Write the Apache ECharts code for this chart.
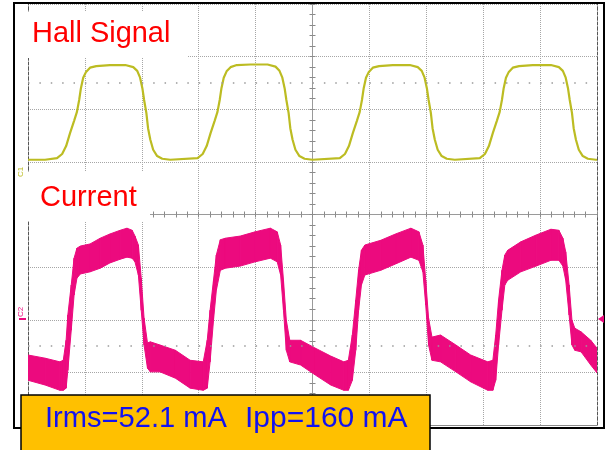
<!DOCTYPE html>
<html><head><meta charset="utf-8">
<script src="https://cdn.jsdelivr.net/npm/echarts@6/dist/echarts.min.js"></script>
<style>html,body{margin:0;padding:0;background:#fff;}#c{width:605px;height:450px;}</style>
</head><body><div id="c"></div>
<script>
// Time in screen divisions (0..10), level in vertical divisions (-4..4)
const hallT = [0,0.30,
  0.51,0.60,0.67,0.74,0.81,0.86,0.90,0.93,0.97,1.02,1.09,1.20,1.44,
  1.71,1.85,1.92,1.97,2.01,2.04,2.08,2.11,2.15,2.20,2.27,2.36,2.50,
  2.98,3.07,3.14,3.21,3.28,3.33,3.37,3.40,3.44,3.49,3.56,3.67,3.91,
  4.21,4.35,4.42,4.47,4.51,4.54,4.58,4.61,4.65,4.70,4.77,4.86,5.00,
  5.48,5.57,5.64,5.71,5.78,5.83,5.87,5.90,5.94,5.99,6.06,6.17,6.41,
  6.71,6.85,6.92,6.97,7.01,7.04,7.08,7.11,7.15,7.20,7.27,7.36,7.50,
  7.94,8.03,8.10,8.17,8.24,8.29,8.33,8.36,8.40,8.45,8.52,8.63,8.87,
  9.19,9.33,9.40,9.45,9.49,9.52,9.56,9.59,9.63,9.68,9.75,9.84,9.98,10.0];
const hallV = [1.04,1.04,
  1.07,1.15,1.30,1.55,1.78,1.95,2.18,2.40,2.60,2.71,2.79,2.82,2.84,
  2.84,2.80,2.73,2.60,2.40,2.18,1.93,1.64,1.42,1.23,1.11,1.06,1.04,
  1.07,1.15,1.30,1.55,1.78,1.95,2.18,2.40,2.60,2.72,2.80,2.84,2.85,
  2.85,2.81,2.73,2.60,2.40,2.18,1.93,1.64,1.42,1.23,1.11,1.06,1.04,
  1.07,1.15,1.30,1.55,1.78,1.95,2.18,2.40,2.60,2.71,2.79,2.82,2.84,
  2.84,2.80,2.73,2.60,2.40,2.18,1.93,1.64,1.42,1.23,1.11,1.06,1.04,
  1.07,1.15,1.30,1.55,1.78,1.95,2.18,2.40,2.60,2.71,2.79,2.82,2.84,
  2.84,2.80,2.73,2.60,2.40,2.18,1.93,1.64,1.42,1.23,1.11,1.06,1.04,1.04];

const curT = [0,0.30,0.56,0.62,0.67,0.70,0.76,0.81,0.86,0.92,
  1.09,1.27,1.44,1.62,1.74,1.83,1.88,1.94,1.99,2.04,
  2.10,2.15,2.32,2.59,2.85,3.08,3.15,3.20,3.26,3.31,
  3.38,3.47,3.73,3.99,4.26,4.38,4.44,4.49,4.54,4.60,
  4.79,5.05,5.32,5.55,5.63,5.70,5.76,5.81,5.86,5.92,
  6.20,6.46,6.73,6.87,6.94,6.99,7.04,7.10,7.25,7.52,
  7.78,8.08,8.17,8.22,8.27,8.33,8.38,8.43,8.66,8.93,
  9.19,9.33,9.40,9.45,9.51,9.56,9.61,9.72,9.89,10.0];
const curUpper = [-2.67,-2.73,-2.80,-2.77,-2.39,-1.91,-1.34,-0.83,-0.64,-0.60,
  -0.56,-0.45,-0.37,-0.30,-0.26,-0.30,-0.41,-0.58,-1.21,-1.97,
  -2.44,-2.42,-2.48,-2.58,-2.77,-2.80,-2.39,-1.82,-1.25,-0.77,
  -0.48,-0.45,-0.41,-0.33,-0.26,-0.33,-0.58,-1.25,-2.01,-2.39,
  -2.39,-2.54,-2.69,-2.80,-2.77,-2.29,-1.63,-1.06,-0.68,-0.58,
  -0.49,-0.37,-0.26,-0.33,-0.58,-1.25,-1.97,-2.33,-2.29,-2.48,
  -2.67,-2.80,-2.77,-2.29,-1.63,-1.06,-0.77,-0.68,-0.52,-0.39,
  -0.28,-0.30,-0.45,-0.71,-1.34,-2.01,-2.16,-2.23,-2.39,-2.54];
const curLower = [-3.15,-3.24,-3.34,-3.34,-3.30,-2.96,-2.20,-1.53,-1.21,-1.13,
  -1.09,-1.02,-0.92,-0.85,-0.81,-0.83,-0.90,-1.15,-1.82,-2.48,
  -2.92,-2.99,-2.99,-3.11,-3.30,-3.34,-3.30,-2.80,-2.01,-1.44,
  -1.06,-1.02,-0.98,-0.90,-0.83,-0.90,-1.15,-1.82,-2.58,-2.80,
  -2.86,-3.05,-3.24,-3.34,-3.34,-3.15,-2.58,-1.82,-1.34,-1.15,
  -1.06,-0.94,-0.81,-0.87,-1.09,-1.72,-2.48,-2.77,-2.80,-2.99,
  -3.18,-3.34,-3.34,-3.15,-2.48,-1.82,-1.34,-1.25,-1.09,-0.98,
  -0.87,-0.87,-0.98,-1.25,-1.91,-2.48,-2.58,-2.61,-2.86,-3.01];

const labelHall = 'Hall Signal';
const labelCurrent = 'Current';
const labelIrms = 'Irms=52.1 mA';
const labelIpp = 'Ipp=160 mA';

const HALL = '#bcbc22', PINK = '#ec0a7e', GRID = '#a6a6a6';
const hallData = hallT.map((t, i) => [t, hallV[i]]);
const curData = curT.map((t, i) => [t, curUpper[i], curLower[i]]);

const hid = { axisLabel: { show: false }, splitLine: { show: false } };
function tickAxis(pos, range, showLine) {
  return Object.assign({ type: 'value', min: range[0], max: range[1], interval: 0.2, position: pos,
    axisLine: { show: showLine, onZero: false, lineStyle: { color: '#9a9a9a', width: 1 } },
    axisTick: { show: true, length: 3, lineStyle: { color: '#8a8a8a' } } }, hid);
}
const xa1 = tickAxis('bottom', [0, 10], true); xa1.offset = -210.5;
const xa2 = tickAxis('top', [0, 10], false); xa2.offset = -210.5;
const ya1 = tickAxis('left', [-4, 4], true); ya1.offset = -284.5;
const ya2 = tickAxis('right', [-4, 4], false); ya2.offset = -284.5;

function renderBand(params, api) {
  const i = params.dataIndex;
  if (i >= curData.length - 1) return null;
  const a = curData[i], b = curData[i + 1];
  const pts = [api.coord([a[0], a[1]]), api.coord([b[0], b[1]]), api.coord([b[0], b[2]]), api.coord([a[0], a[2]])];
  return { type: 'polygon', shape: { points: pts },
    style: { fill: PINK, stroke: PINK, lineWidth: 1 } };
}

const chart = echarts.init(document.getElementById('c'), null, { renderer: 'canvas' });
chart.setOption({
  animation: false,
  backgroundColor: '#ffffff',
  grid: { left: 28, right: 8, top: 4, bottom: 25, containLabel: false, outerBoundsMode: 'none' },
  xAxis: [
    { type: 'value', min: 0, max: 10, interval: 1, position: 'bottom',
      axisLine: { show: true, onZero: false, lineStyle: { color: '#8c8c8c', width: 1 } },
      axisTick: { show: false }, axisLabel: { show: false },
      splitLine: { show: true, lineStyle: { color: GRID, type: [1, 1], width: 1 } } },
    xa1, xa2
  ],
  yAxis: [
    { type: 'value', min: -4, max: 4, interval: 1, position: 'left',
      axisLine: { show: true, onZero: false, lineStyle: { color: '#555', type: [3, 2], width: 1 } },
      axisTick: { show: false }, axisLabel: { show: false },
      splitLine: { show: true, lineStyle: { color: GRID, type: [1, 1], width: 1 } } },
    ya1, ya2,
    Object.assign({ type: 'value', min: -4, max: 4, interval: 1, position: 'right',
      axisLine: { show: true, onZero: false, lineStyle: { color: '#555', type: [3, 2], width: 1 } },
      axisTick: { show: false } }, hid)
  ],
  series: [
    { type: 'line', name: 'Hall', data: hallData, showSymbol: false, symbol: 'none',
      lineStyle: { color: HALL, width: 2.2 }, z: 3,
      markLine: { silent: true, symbol: 'none', label: { show: false },
        lineStyle: { color: '#9a9a9a', type: [1.5, 9.88], width: 1.5 },
        data: [{ yAxis: 2.5 }, { yAxis: -2.5 }] } },
    { type: 'custom', name: 'Current', data: curData, renderItem: renderBand,
      encode: { x: 0, y: [1, 2] }, z: 4, clip: true }
  ],
  graphic: { elements: [
    { type: 'rect', z: 100, shape: { x: 14, y: 3, width: 590, height: 425 },
      style: { fill: 'none', stroke: '#000', lineWidth: 2 } },
    { type: 'rect', z: 100, shape: { x: 24, y: 12, width: 163, height: 46 }, style: { fill: '#fff' } },
    { type: 'text', z: 101, x: 32, y: 34, scaleX: 0.965,
      style: { text: labelHall, font: '30px "Liberation Sans", Arial, sans-serif', fill: '#ff0000', verticalAlign: 'middle' } },
    { type: 'rect', z: 100, shape: { x: 24, y: 172, width: 126, height: 49 }, style: { fill: '#fff' } },
    { type: 'text', z: 101, x: 40, y: 197.5,
      style: { text: labelCurrent, font: '29px "Liberation Sans", Arial, sans-serif', fill: '#ff0000', verticalAlign: 'middle' } },
    { type: 'text', z: 101, x: 21, y: 312, rotation: Math.PI / 2,
      style: { text: 'C2', font: '8px "Liberation Sans", Arial, sans-serif', fill: PINK, align: 'center', verticalAlign: 'middle' } },
    { type: 'rect', z: 101, shape: { x: 19, y: 318, width: 7, height: 2 }, style: { fill: PINK } },
    { type: 'text', z: 99, x: 21, y: 172, rotation: Math.PI / 2,
      style: { text: 'C1', font: '8px "Liberation Sans", Arial, sans-serif', fill: HALL, align: 'center', verticalAlign: 'middle' } },
    { type: 'polygon', z: 101, shape: { points: [[598, 319], [604, 315], [604, 323]] }, style: { fill: PINK } },
    { type: 'rect', z: 102, shape: { x: 21, y: 395, width: 409, height: 56 },
      style: { fill: '#ffc000', stroke: '#000', lineWidth: 1.5 } },
    { type: 'text', z: 103, x: 45, y: 419, scaleX: 0.97,
      style: { text: labelIrms, font: '30px "Liberation Sans", Arial, sans-serif', fill: '#1212f0', verticalAlign: 'middle' } },
    { type: 'text', z: 103, x: 245, y: 419,
      style: { text: labelIpp, font: '30px "Liberation Sans", Arial, sans-serif', fill: '#1212f0', verticalAlign: 'middle' } }
  ] }
});
</script></body></html>
